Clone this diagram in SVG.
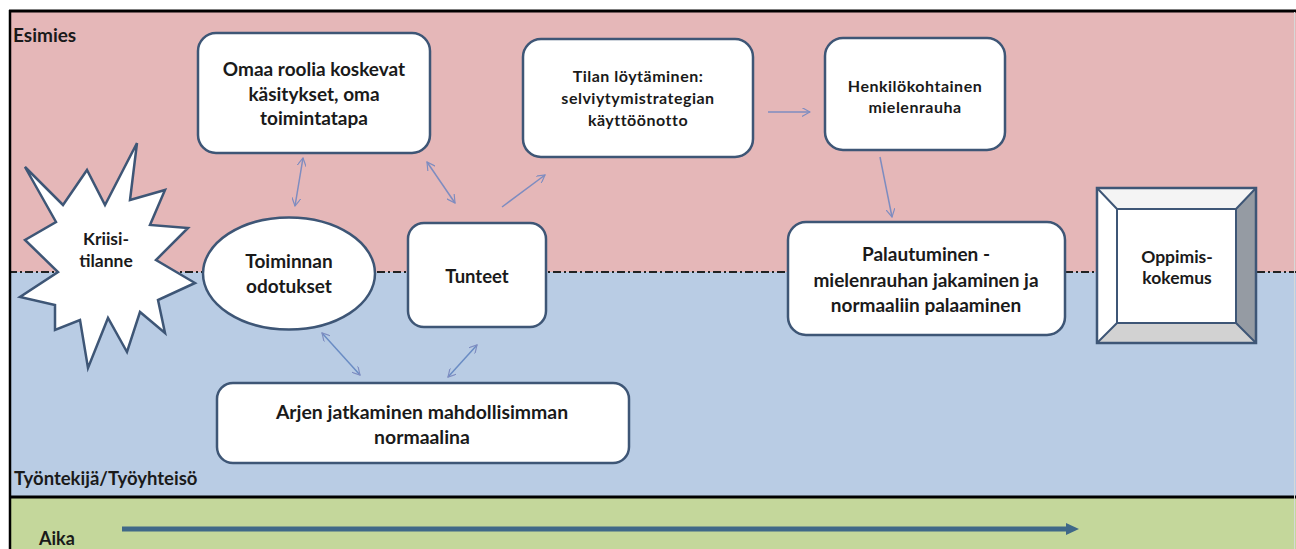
<svg xmlns="http://www.w3.org/2000/svg" width="1296" height="549" viewBox="0 0 1296 549">
<defs>
<style>
.t{font-family:Lato,"Liberation Sans",sans-serif;font-weight:bold;fill:#1a1a1a;text-anchor:middle}
.lbl{font-family:Lato,"Liberation Sans",sans-serif;font-weight:bold;fill:#1a1a1a}
.sp{letter-spacing:0.5px}
.box{fill:#ffffff;stroke:#3E5676;stroke-width:2.5}
.con{fill:none;stroke:#7E8CC0;stroke-width:1.5}
</style>
<marker id="ah" viewBox="0 0 10 10" refX="9" refY="5" markerWidth="9" markerHeight="9" markerUnits="userSpaceOnUse" orient="auto-start-reverse">
<path d="M0,0 L9,5 L0,10" fill="none" stroke="#7E8CC0" stroke-width="1.3"/>
</marker>
</defs>
<rect x="0" y="0" width="1296" height="549" fill="#ffffff"/>
<rect x="9" y="10" width="1287" height="262" fill="#E5B7B8"/>
<rect x="9" y="272" width="1287" height="225" fill="#B9CCE4"/>
<rect x="9" y="497" width="1287" height="52" fill="#C4D79B"/>
<line x1="9" y1="272" x2="1296" y2="272" stroke="#222" stroke-width="1.8" stroke-dasharray="8,3,2,3"/>
<line x1="9" y1="11" x2="1296" y2="11" stroke="#000" stroke-width="3"/>
<line x1="10" y1="10" x2="10" y2="549" stroke="#000" stroke-width="2.5"/>
<line x1="9" y1="497" x2="1296" y2="497" stroke="#000" stroke-width="3"/>
<line x1="1294.5" y1="12" x2="1294.5" y2="549" stroke="#d8d8d8" stroke-width="1"/>
<text class="lbl" x="13" y="42" font-size="19">Esimies</text>
<text class="lbl" x="14" y="485" font-size="18.5">Työntekijä/Työyhteisö</text>
<text class="lbl" x="39" y="545" font-size="18">Aika</text>
<g id="timeline">
<line x1="122" y1="529" x2="1068" y2="529" stroke="#3F6888" stroke-width="5"/>
<path d="M1066,523 L1079,529 L1066,535 Z" fill="#3F6888"/>
</g>
<g id="connectors">
<line class="con" x1="303" y1="158" x2="295" y2="206" marker-start="url(#ah)" marker-end="url(#ah)"/>
<line class="con" x1="427" y1="162" x2="455" y2="203" marker-start="url(#ah)" marker-end="url(#ah)"/>
<line class="con" x1="502" y1="207" x2="545" y2="175" marker-end="url(#ah)"/>
<line class="con" x1="768" y1="112" x2="810" y2="112" marker-end="url(#ah)"/>
<line class="con" x1="880" y1="157" x2="892" y2="217" marker-end="url(#ah)"/>
<line class="con" x1="322" y1="333" x2="360" y2="375" marker-start="url(#ah)" marker-end="url(#ah)" style="stroke:#6A8CC4"/>
<line class="con" x1="477" y1="345" x2="448" y2="377" marker-start="url(#ah)" marker-end="url(#ah)" style="stroke:#6A8CC4"/>
</g>
<g id="kriisi">
<path class="box" d="M137,143 L130,200 L165,190 L150,225 L188,228 L156,260 L195,283 L158,300 L165,333 L140,312 L127,352 L108,318 L88,368 L80,320 L55,330 L55,305 L20,297 L58,272 L25,240 L56,222 L25,167 L63,205 L87,170 L105,205 Z"/>
<text class="t" x="106" y="245" font-size="17.5">Kriisi-</text>
<text class="t" x="106" y="267" font-size="17.5">tilanne</text>
</g>
<g id="omaa">
<rect class="box" x="198" y="33" width="232" height="120" rx="18"/>
<text class="t" x="314" y="76" font-size="19">Omaa roolia koskevat</text>
<text class="t" x="314" y="101" font-size="19">käsitykset, oma</text>
<text class="t" x="314" y="125" font-size="19">toimintatapa</text>
</g>
<g id="tilan">
<rect class="box" x="523" y="39" width="230" height="118" rx="18"/>
<text class="t sp" x="638" y="82" font-size="16">Tilan löytäminen:</text>
<text class="t sp" x="638" y="104" font-size="16">selviytymistrategian</text>
<text class="t sp" x="638" y="126" font-size="16">käyttöönotto</text>
</g>
<g id="henkilo">
<rect class="box" x="825" y="38" width="180" height="112" rx="18"/>
<text class="t sp" x="915" y="92" font-size="16">Henkilökohtainen</text>
<text class="t sp" x="915" y="113" font-size="16">mielenrauha</text>
</g>
<g id="palautuminen">
<rect class="box" x="788" y="222" width="277" height="113" rx="18"/>
<text class="t" x="926" y="261" font-size="19">Palautuminen -</text>
<text class="t" x="926" y="287" font-size="19">mielenrauhan jakaminen ja</text>
<text class="t" x="926" y="312" font-size="19">normaaliin palaaminen</text>
</g>
<g id="toiminnan">
<ellipse class="box" cx="289" cy="273.5" rx="86" ry="56"/>
<text class="t" x="289" y="268" font-size="19">Toiminnan</text>
<text class="t" x="289" y="293" font-size="19">odotukset</text>
</g>
<g id="tunteet">
<rect class="box" x="408" y="223" width="138" height="104" rx="16"/>
<text class="t" x="477" y="283" font-size="18.5">Tunteet</text>
</g>
<g id="arjen">
<rect class="box" x="217" y="383" width="412" height="80" rx="16"/>
<text class="t" x="422" y="419" font-size="19.4">Arjen jatkaminen mahdollisimman</text>
<text class="t" x="422" y="444" font-size="19.4">normaalina</text>
</g>
<g id="oppimis">
<rect x="1097" y="188" width="159" height="155" fill="#ffffff"/>
<path d="M1097,188 L1256,188 L1236,209 L1117,209 Z" fill="#F4F4F4"/>
<path d="M1256,188 L1256,343 L1236,323 L1236,209 Z" fill="#959BA3"/>
<path d="M1097,343 L1256,343 L1236,323 L1117,323 Z" fill="#D2D2D2"/>
<path d="M1097,188 L1117,209 M1256,188 L1236,209 M1097,343 L1117,323 M1256,343 L1236,323" stroke="#3E5676" stroke-width="2"/>
<rect x="1117" y="209" width="119" height="114" fill="#ffffff" stroke="#3E5676" stroke-width="2"/>
<rect x="1097" y="188" width="159" height="155" fill="none" stroke="#3E5676" stroke-width="2.5"/>
<text class="t" x="1177" y="263" font-size="17.5">Oppimis-</text>
<text class="t" x="1177" y="284" font-size="17.5">kokemus</text>
</g>
</svg>
